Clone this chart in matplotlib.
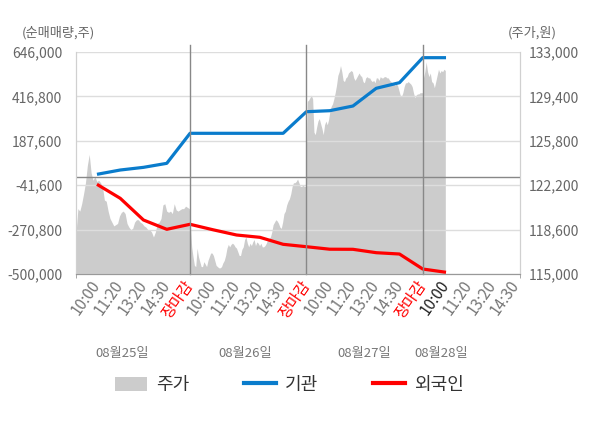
import numpy as np
import matplotlib
matplotlib.use('Agg')
import matplotlib.pyplot as plt
from matplotlib.patches import Patch
from matplotlib.lines import Line2D
import matplotlib.transforms as mtransforms

plt.rcParams['font.family'] = ['Noto Sans CJK KR', 'DejaVu Sans']

# 데이터

tick_labels = ['10:00', '11:20', '13:20', '14:30', '장마감'] * 3 + ['10:00', '11:20', '13:20', '14:30']
date_labels = ['08월25일', '08월26일', '08월27일', '08월28일']

# 기관 / 외국인 누적 순매매량 (틱 위치 1..16)
inst = [14600, 36800, 50600, 71300, 226300, 226300, 226300, 226300, 226300,
        337800, 343000, 367200, 458600, 487700, 616700, 616700]
foreign = [-37000, -109200, -221300, -269300, -243400, -272000, -298700, -310600,
           -346700, -359100, -372000, -372500, -390000, -396800, -474200, -491200]

# 주가 (일별)
price_day1 = [118300, 120300, 120100, 120700, 121500, 122400, 123800, 124700, 123200, 122600,
              122900, 122500, 122600, 122400, 122100, 121000, 120900, 120100, 119500, 119200,
              118900, 119000, 119100, 119700, 120000, 120100, 119900, 119100, 118800, 118600,
              118700, 119200, 119400, 119400, 119200, 119100, 118900, 118800, 118600, 118600,
              118400, 118000, 118400, 119100, 119200, 119500, 120600, 120700, 120100, 120000,
              120100, 119900, 120700, 120200, 120100, 120200, 120300, 120300, 120500, 120400,
              120300]
price_day2 = [117200, 116400, 115700, 115600, 117100, 116400, 116000, 115600, 115600, 116000,
              115800, 115600, 116100, 116400, 116700, 116700, 116500, 116100, 115700, 115600,
              115500, 115500, 115600, 115900, 116100, 116500, 117100, 117400, 117200, 117400,
              117500, 117400, 117200, 117100, 116800, 116500, 116500, 117000, 117200, 117800,
              118000, 117500, 117200, 117500, 117300, 117600, 117800, 117300, 117600, 117500,
              117300, 117500, 117200, 117200, 117300, 117500, 117800, 117900, 118000, 118400,
              119000, 119200, 119400, 119300, 119100, 118800, 118700, 119200, 119900, 120100,
              120600, 120900, 121100, 121500, 122100, 122400, 122400, 122500, 122700, 122400,
              122100, 122100, 122200, 122100, 122100]
price_day3 = [129000, 129100, 129300, 129500, 129200, 126500, 126300, 126900, 127400, 127600,
              127200, 126800, 126300, 127100, 127400, 127100, 127500, 128200, 128600, 128800,
              129200, 129700, 130300, 131100, 131400, 131900, 131400, 130700, 130600, 130900,
              131000, 131300, 131400, 131500, 131400, 130900, 130700, 130900, 131100, 131300,
              131100, 131000, 130600, 130500, 130900, 131000, 130900, 130900, 130700, 130600,
              130700, 130500, 130900, 130900, 130700, 131000, 130900, 130900, 131000, 131000,
              130900, 130900, 130700, 130600, 130500, 130400, 130300, 130400, 130300, 129900,
              129500, 129400, 129700, 130200, 130500, 130500, 130600, 130500, 130400, 130200,
              129700, 129300, 129500, 129600, 129600, 129700, 129700, 129700]
price_day4 = [130900, 131400, 132200, 131400, 131000, 131300, 130600, 130500, 130100, 130600,
              131100, 131600, 131300, 131500, 131400, 131600, 131500]

prices = [price_day1, price_day2, price_day3, price_day4]
day_spans = [(0.1, 4.97), (5.07, 9.97), (10.04, 15.0), (15.03, 15.97)]

# 그래프

fig = plt.figure(figsize=(6, 4.28), dpi=100)
ax = fig.add_axes([0.1267, 0.3598, 0.74, 0.5187])
ax2 = ax.twinx()
ax.set_zorder(ax2.get_zorder() + 1)
ax.patch.set_visible(False)
ax2.set_facecolor('#f4f4f4')

px = np.concatenate([np.linspace(a, b, len(p)) for (a, b), p in zip(day_spans, prices)])
py = np.concatenate(prices)
ax2.fill_between(px, py, 115000, color='#cccccc', linewidth=0)

xi = np.arange(1, len(inst) + 1)
ax.plot(xi, inst, color='#0a7ccc', lw=2.3, solid_capstyle='butt')
ax.plot(xi, foreign, color='#ff0000', lw=2.3, solid_capstyle='butt')

ax.set_xlim(0.1, 19.18)
ax.set_ylim(-500000, 646000)
ax2.set_ylim(115000, 133000)

lticks = [-500000, -270800, -41600, 187600, 416800, 646000]
rticks = [115000, 118600, 122200, 125800, 129400, 133000]
ax.set_yticks(lticks)
ax.set_yticklabels([f'{v:,}' for v in lticks])
ax2.set_yticks(rticks)
ax2.set_yticklabels([f'{v:,}' for v in rticks])
ax.grid(axis='y', color='#dddddd', lw=1)
ax.axhline(0, color='#888888', lw=1)
for d in [5, 10, 15]:
    ax.axvline(d, ymin=0, ymax=1.03, color='#888888', lw=1, clip_on=False)

ax.tick_params(axis='y', length=0, labelsize=10, labelcolor='#666666', pad=10)
ax2.tick_params(axis='y', length=0, labelsize=10, labelcolor='#666666', pad=6)

ax.set_xticks(np.arange(1, len(tick_labels) + 1))
ax.set_xticklabels(tick_labels)
ax.set_xticks([0.1, 5, 10, 15, 19.18], minor=True)
ax.tick_params(axis='x', which='major', length=0, labelsize=11, labelcolor='#777777', pad=6)
ax.tick_params(axis='x', which='minor', length=3, color='#999999')
for i, lab in enumerate(ax.get_xticklabels()):
    lab.set_rotation(55)
    lab.set_ha('right')
    lab.set_va('center')
    lab.set_rotation_mode('anchor')
    if tick_labels[i] == '장마감':
        lab.set_color('#ff0000')
    elif i == 15:
        lab.set_color('#222222')

for a in (ax, ax2):
    a.spines['top'].set_visible(False)
    a.spines['left'].set_color('#d0d0d0')
    a.spines['right'].set_color('#d0d0d0')
    a.spines['bottom'].set_color('#999999')

trans = mtransforms.blended_transform_factory(ax.transData, fig.transFigure)
for xpos, lab in zip([2.1, 7.35, 12.5, 15.8], date_labels):
    ax.text(xpos, 1 - 353 / 428, lab, transform=trans, ha='center', va='center',
            fontsize=9.5, color='#777777')

fig.text(22 / 600, 1 - 33 / 428, '(순매매량,주)', ha='left', va='center', fontsize=9.5, color='#666666')
fig.text(508 / 600, 1 - 33 / 428, '(주가,원)', ha='left', va='center', fontsize=9.5, color='#666666')

handles = [Patch(facecolor='#cccccc', edgecolor='none'),
           Line2D([], [], color='#0a7ccc', lw=3),
           Line2D([], [], color='#ff0000', lw=3)]
fig.legend(handles, ['주가', '기관', '외국인'], loc='center', bbox_to_anchor=(0.4825, 1 - 385 / 428),
           ncol=3, frameon=False, fontsize=13, handlelength=1.8, handleheight=0.8,
           handletextpad=0.5, columnspacing=3.0, labelcolor='#333333')

fig.savefig('out.png', dpi=100)
